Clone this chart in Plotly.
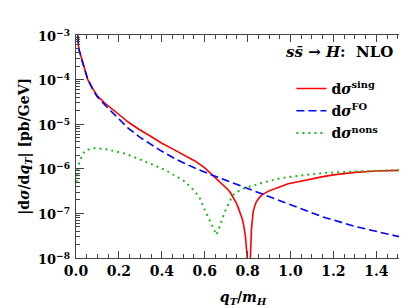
import plotly.graph_objects as go

# ---- data ----
x_sing = [0.004, 0.007, 0.0126, 0.024, 0.036, 0.055, 0.078, 0.098, 0.137, 0.176, 0.215, 0.243,
          0.293, 0.35, 0.398, 0.45, 0.50, 0.554, 0.60, 0.639, 0.68, 0.709, 0.72, 0.733, 0.745, 0.755,
          0.762, 0.770, 0.775, 0.780, 0.785, 0.790, 0.793, 0.797, 0.805, 0.812, 0.815, 0.818, 0.822,
          0.826, 0.832, 0.840, 0.850, 0.863, 0.875, 0.90, 0.943, 0.989,
          1.036, 1.10, 1.145, 1.20, 1.30, 1.40, 1.50, 1.56]
y_sing = [1.8e-3, 1.0e-3, 5.0e-4, 3.2e-4, 2.1e-4, 1.0e-4, 6.3e-5, 4.4e-5, 2.9e-5, 2.1e-5, 1.45e-5, 1.12e-5,
          7.7e-6, 5.3e-6, 3.8e-6, 2.8e-6, 2.1e-6, 1.5e-6, 1.05e-6, 7.1e-7, 4.6e-7, 3.4e-7, 2.9e-7, 2.3e-7, 1.8e-7, 1.4e-7,
          1.15e-7, 9.2e-8, 7.5e-8, 6.0e-8, 4.5e-8, 3.0e-8, 2.0e-8, 1.2e-8, 1.0e-9, 1.2e-8, 2.5e-8, 4.5e-8, 7.0e-8,
          1.1e-7, 1.4e-7, 1.8e-7, 2.1e-7, 2.5e-7, 2.75e-7, 3.2e-7, 3.8e-7, 4.6e-7,
          5.1e-7, 6.0e-7, 6.6e-7, 7.3e-7, 8.3e-7, 8.9e-7, 9.2e-7, 9.4e-7]

x_fo = [0.004, 0.007, 0.0126, 0.024, 0.036, 0.055, 0.078, 0.098, 0.145, 0.199, 0.243, 0.30,
        0.398, 0.47, 0.554, 0.639, 0.70, 0.787, 0.89, 0.989, 1.145, 1.30, 1.40, 1.563]
y_fo = [1.8e-3, 1.0e-3, 5.0e-4, 3.1e-4, 2.0e-4, 1.0e-4, 6.1e-5, 4.2e-5, 2.4e-5, 1.3e-5, 8.2e-6, 5.0e-6,
        2.5e-6, 1.6e-6, 1.04e-6, 7.1e-7, 5.5e-7, 3.7e-7, 2.4e-7, 1.58e-7, 8.5e-8, 5.1e-8, 3.9e-8, 2.6e-8]

x_nons = [0.003, 0.008, 0.017, 0.04, 0.07, 0.095, 0.149, 0.227, 0.32, 0.414, 0.476, 0.507, 0.554,
          0.577, 0.60, 0.63, 0.655, 0.675, 0.694, 0.715, 0.733, 0.76, 0.787, 0.865, 0.943, 0.989,
          1.036, 1.145, 1.30, 1.45, 1.563]
y_nons = [5.0e-7, 1.0e-6, 1.5e-6, 2.5e-6, 2.85e-6, 2.9e-6, 2.7e-6, 2.2e-6, 1.48e-6, 9.5e-7, 6.4e-7, 5.2e-7, 3.1e-7,
          2.2e-7, 1.2e-7, 6.0e-8, 3.3e-8, 6.0e-8, 1.1e-7, 1.8e-7, 2.6e-7, 3.2e-7, 3.7e-7, 4.8e-7, 6.0e-7, 6.5e-7,
          6.9e-7, 8.0e-7, 8.7e-7, 9.2e-7, 9.5e-7]

x_ticks = [0.0, 0.2, 0.4, 0.6, 0.8, 1.0, 1.2, 1.4]
x_ticklabels = ["0.0", "0.2", "0.4", "0.6", "0.8", "1.0", "1.2", "1.4"]
y_exps = [-8, -7, -6, -5, -4, -3]

FONT = "DejaVu Serif"

fig = go.Figure()
fig.add_trace(go.Scatter(x=x_sing, y=y_sing, mode="lines", legendgroup="a",
                         line=dict(color="#ff0000", width=1.6),
                         name="<b>d<i>σ</i><sup>sing</sup></b>"))
fig.add_trace(go.Scatter(x=x_fo, y=y_fo, mode="lines", legendgroup="b",
                         line=dict(color="#0000ff", width=1.6, dash="8px,4px"),
                         name="<b>d<i>σ</i><sup>FO</sup></b>"))
fig.add_trace(go.Scatter(x=x_nons, y=y_nons, mode="lines", legendgroup="c",
                         line=dict(color="#22b422", width=2, dash="2px,4px"),
                         name="<b>d<i>σ</i><sup>nons</sup></b>"))

minor_y = [m * 10 ** e for e in range(-8, -3) for m in range(2, 10)]

annotations = [dict(text="<b><i>s</i><i>s̄</i> → <i>H</i>:  NLO</b>", xref="paper", yref="paper",
                    x=0.955, y=0.925, xanchor="right", yanchor="middle", showarrow=False,
                    font=dict(family=FONT, size=15))]
# y tick labels (log axis: annotation y is the exponent)
for e in y_exps:
    annotations.append(dict(text="<b>10<sup>−%d</sup></b>" % (-e), xref="paper", yref="y",
                            x=-0.012, y=e, xanchor="right", yanchor="middle", showarrow=False,
                            font=dict(family=FONT, size=13)))
# y axis title
annotations.append(dict(text="<b>|d<i>σ</i>/d<i>q<sub>T</sub></i>| [pb/GeV]</b>", xref="paper", yref="paper",
                        x=-0.155, y=0.5, xanchor="center", yanchor="middle", textangle=-90,
                        showarrow=False, font=dict(family=FONT, size=14)))

fig.update_layout(
    width=407, height=308,
    margin=dict(l=68, r=5, t=27, b=58),
    paper_bgcolor="white", plot_bgcolor="white",
    font=dict(family=FONT, size=14, color="black"),
    showlegend=True,
    legend=dict(x=0.645, xanchor="left", y=0.83, yanchor="top",
                bgcolor="rgba(0,0,0,0)", borderwidth=0, tracegroupgap=1,
                font=dict(family=FONT, size=14), itemwidth=30),
    xaxis=dict(range=[0, 1.557], tickvals=x_ticks,
               ticktext=["<b>%s</b>" % t for t in x_ticklabels],
               ticks="inside", ticklen=7, tickcolor="#444", mirror="allticks",
               showline=True, linecolor="#444", linewidth=1, showgrid=False, zeroline=False,
               minor=dict(dtick=0.05, tick0=0, ticks="inside", ticklen=4, tickcolor="#444", showgrid=False),
               tickfont=dict(family=FONT, size=14),
               title=dict(text="<b><i>q<sub>T</sub></i>/<i>m<sub>H</sub></i></b>",
                          font=dict(family=FONT, size=14), standoff=14)),
    yaxis=dict(type="log", range=[-8, -3],
               tickvals=[10 ** e for e in y_exps],
               showticklabels=False,
               ticks="inside", ticklen=8, tickcolor="#444", mirror="allticks",
               showline=True, linecolor="#444", linewidth=1, showgrid=False, zeroline=False,
               minor=dict(tickvals=minor_y, ticks="inside", ticklen=4, tickcolor="#444", showgrid=False),
               automargin=False),
    annotations=annotations,
)

fig.write_html("out.html")
